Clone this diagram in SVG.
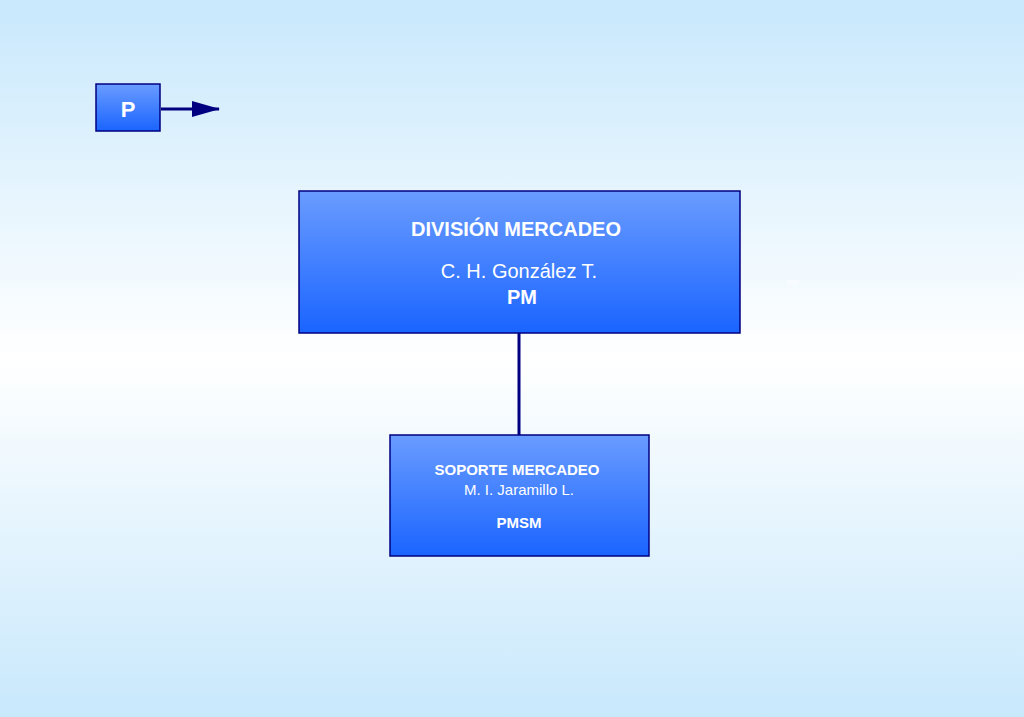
<svg xmlns="http://www.w3.org/2000/svg" width="1024" height="717" viewBox="0 0 1024 717">
<defs>
<linearGradient id="bg" x1="0" y1="0" x2="0" y2="1"><stop offset="0" stop-color="#c8e8fc"/><stop offset="0.5" stop-color="#ffffff"/><stop offset="1" stop-color="#c8e8fc"/></linearGradient>
<linearGradient id="box" x1="0" y1="0" x2="0" y2="1"><stop offset="0" stop-color="#6a9cff"/><stop offset="1" stop-color="#1a64ff"/></linearGradient>
<marker id="ah" markerWidth="28" markerHeight="16" refX="27" refY="8" orient="auto" markerUnits="userSpaceOnUse"><path d="M0,0 L28,8 L0,16 Z" fill="#000080"/></marker>
<style>.n{fill:url(#box);stroke:#000080;stroke-width:1.5}.t{font-family:"Liberation Sans",Arial,sans-serif;fill:#fff;text-anchor:middle}.b{font-weight:bold}</style>
</defs>
<rect width="1024" height="717" fill="url(#bg)"/>
<g id="connectors" stroke="#000080" stroke-width="3" fill="none">
<line x1="161" y1="109" x2="219" y2="109" marker-end="url(#ah)"/>
<line x1="519" y1="333" x2="519" y2="435"/>
</g>
<g id="p"><rect class="n" x="96" y="84" width="64" height="47"/><text class="t b" x="128" y="117" font-size="22">P</text></g>
<g id="pm"><rect class="n" x="299" y="191" width="441" height="142"/>
<text class="t b" x="516" y="236" font-size="20">DIVISIÓN MERCADEO</text>
<text class="t" x="519" y="278" font-size="20">C. H. González T.</text>
<text class="t b" x="522" y="304" font-size="20">PM</text></g>
<text class="t" x="793" y="286" font-size="9" fill-opacity="0.8">PP</text>
<g id="pmsm"><rect class="n" x="390" y="435" width="259" height="121"/>
<text class="t b" x="517" y="475" font-size="15">SOPORTE MERCADEO</text>
<text class="t" x="519" y="495" font-size="15">M. I. Jaramillo L.</text>
<text class="t b" x="519" y="528" font-size="15">PMSM</text></g>
</svg>
